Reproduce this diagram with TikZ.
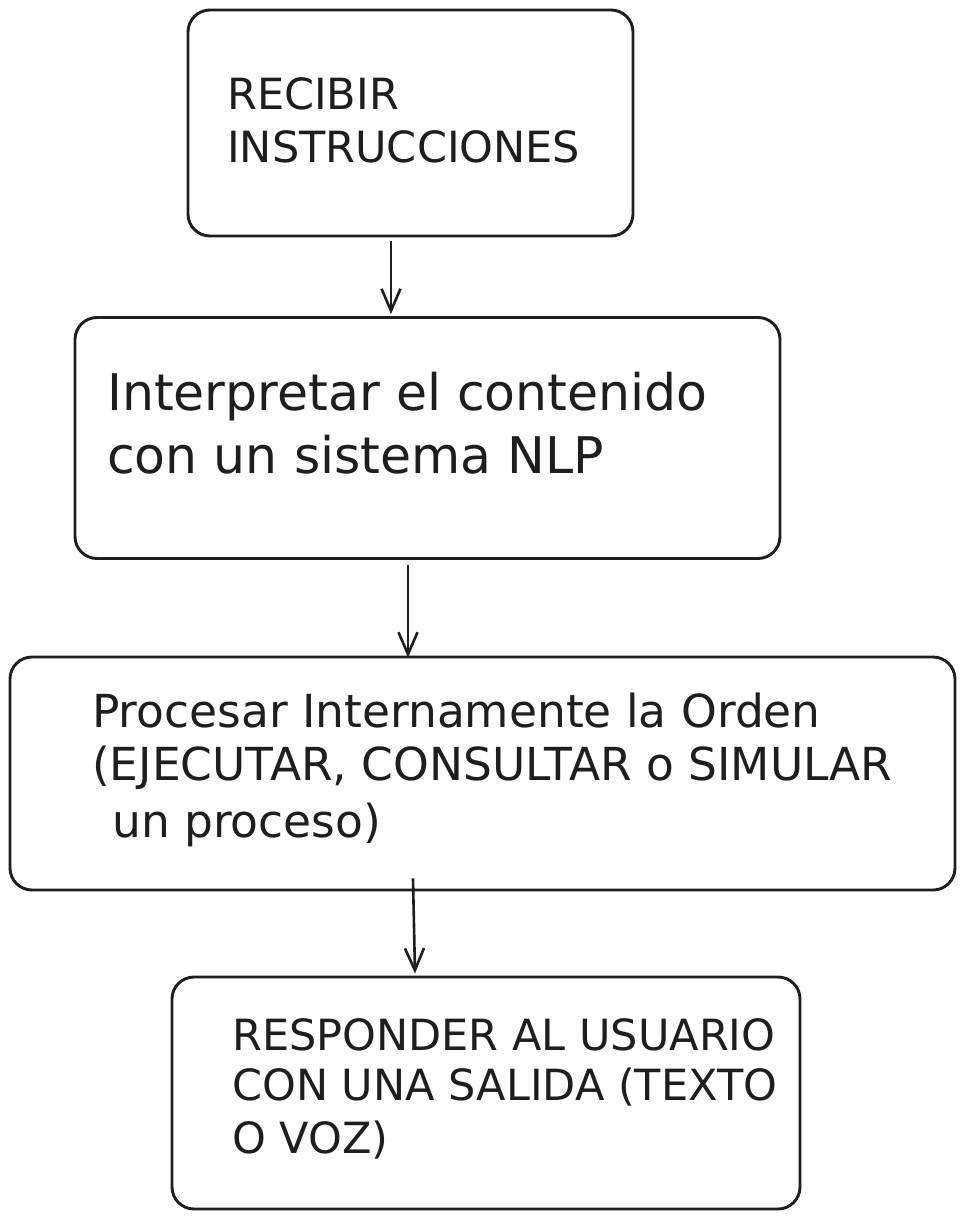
\documentclass[tikz,border=0pt]{standalone}
\usepackage{fontspec}
\setmainfont{DejaVu Sans}
\usetikzlibrary{arrows.meta,calc}
\definecolor{ink}{HTML}{1E1E1E}
\begin{document}
\begin{tikzpicture}[x=1pt,y=-1pt,
  boxnode/.style={draw=ink, line width=2.9pt, rounded corners=22pt, inner sep=0pt, fill=white},
  txt/.style={anchor=base west, inner sep=0pt, text=ink},
  fa/.style={font=\fontsize{43}{51}\selectfont},
  fb/.style={font=\fontsize{50.5}{62}\selectfont},
  fc/.style={font=\fontsize{45.5}{54}\selectfont},
  fd/.style={font=\fontsize{43}{51}\selectfont},
  conn/.style={draw=ink, line width=2.6pt, -{Straight Barb[length=22pt,width=19pt,line width=2.6pt]}}
]
\useasboundingbox[fill=white] (0,0) rectangle (965,1220);

\node[boxnode, minimum width=445pt, minimum height=226pt] (b1) at (410.5,123) {};
\node[boxnode, minimum width=705pt, minimum height=241pt] (b2) at (427.5,438) {};
\node[boxnode, minimum width=945pt, minimum height=233pt] (b3) at (482.5,773.5) {};
\node[boxnode, minimum width=628pt, minimum height=232pt] (b4) at (486,1093) {};

\node[txt,fa] (t1a) at (227,110) {RECIBIR};
\node[txt,fa] (t1b) at (227,162) {INSTRUCCIONES};

\node[txt,fb] (t2a) at (107,410) {Interpretar el contenido};
\node[txt,fb] (t2b) at (107,473) {con un sistema NLP};

\node[txt,fc] (t3a) at (92,727) {Procesar Internamente la Orden};
\node[txt,fc] (t3b) at (92,780) {(EJECUTAR, CONSULTAR o SIMULAR};
\node[txt,fc] (t3c) at (112,837) {un proceso)};

\node[txt,fd] (t4a) at (232,1050) {RESPONDER AL USUARIO};
\node[txt,fd] (t4b) at (232,1100) {CON UNA SALIDA (TEXTO};
\node[txt,fd] (t4c) at (232,1153) {O VOZ)};

\draw[conn] ($(b1.south)+(-19.5,4)$) -- ($(b2.north)+(-36.5,-2)$);
\draw[conn] ($(b2.south)+(-19.5,5)$) -- ($(b3.north)+(-74.5,2)$);
\draw[conn] ($(b3.south)+(-69.5,-13)$) -- ($(b4.north)+(-71,-2)$);
\end{tikzpicture}
\end{document}
